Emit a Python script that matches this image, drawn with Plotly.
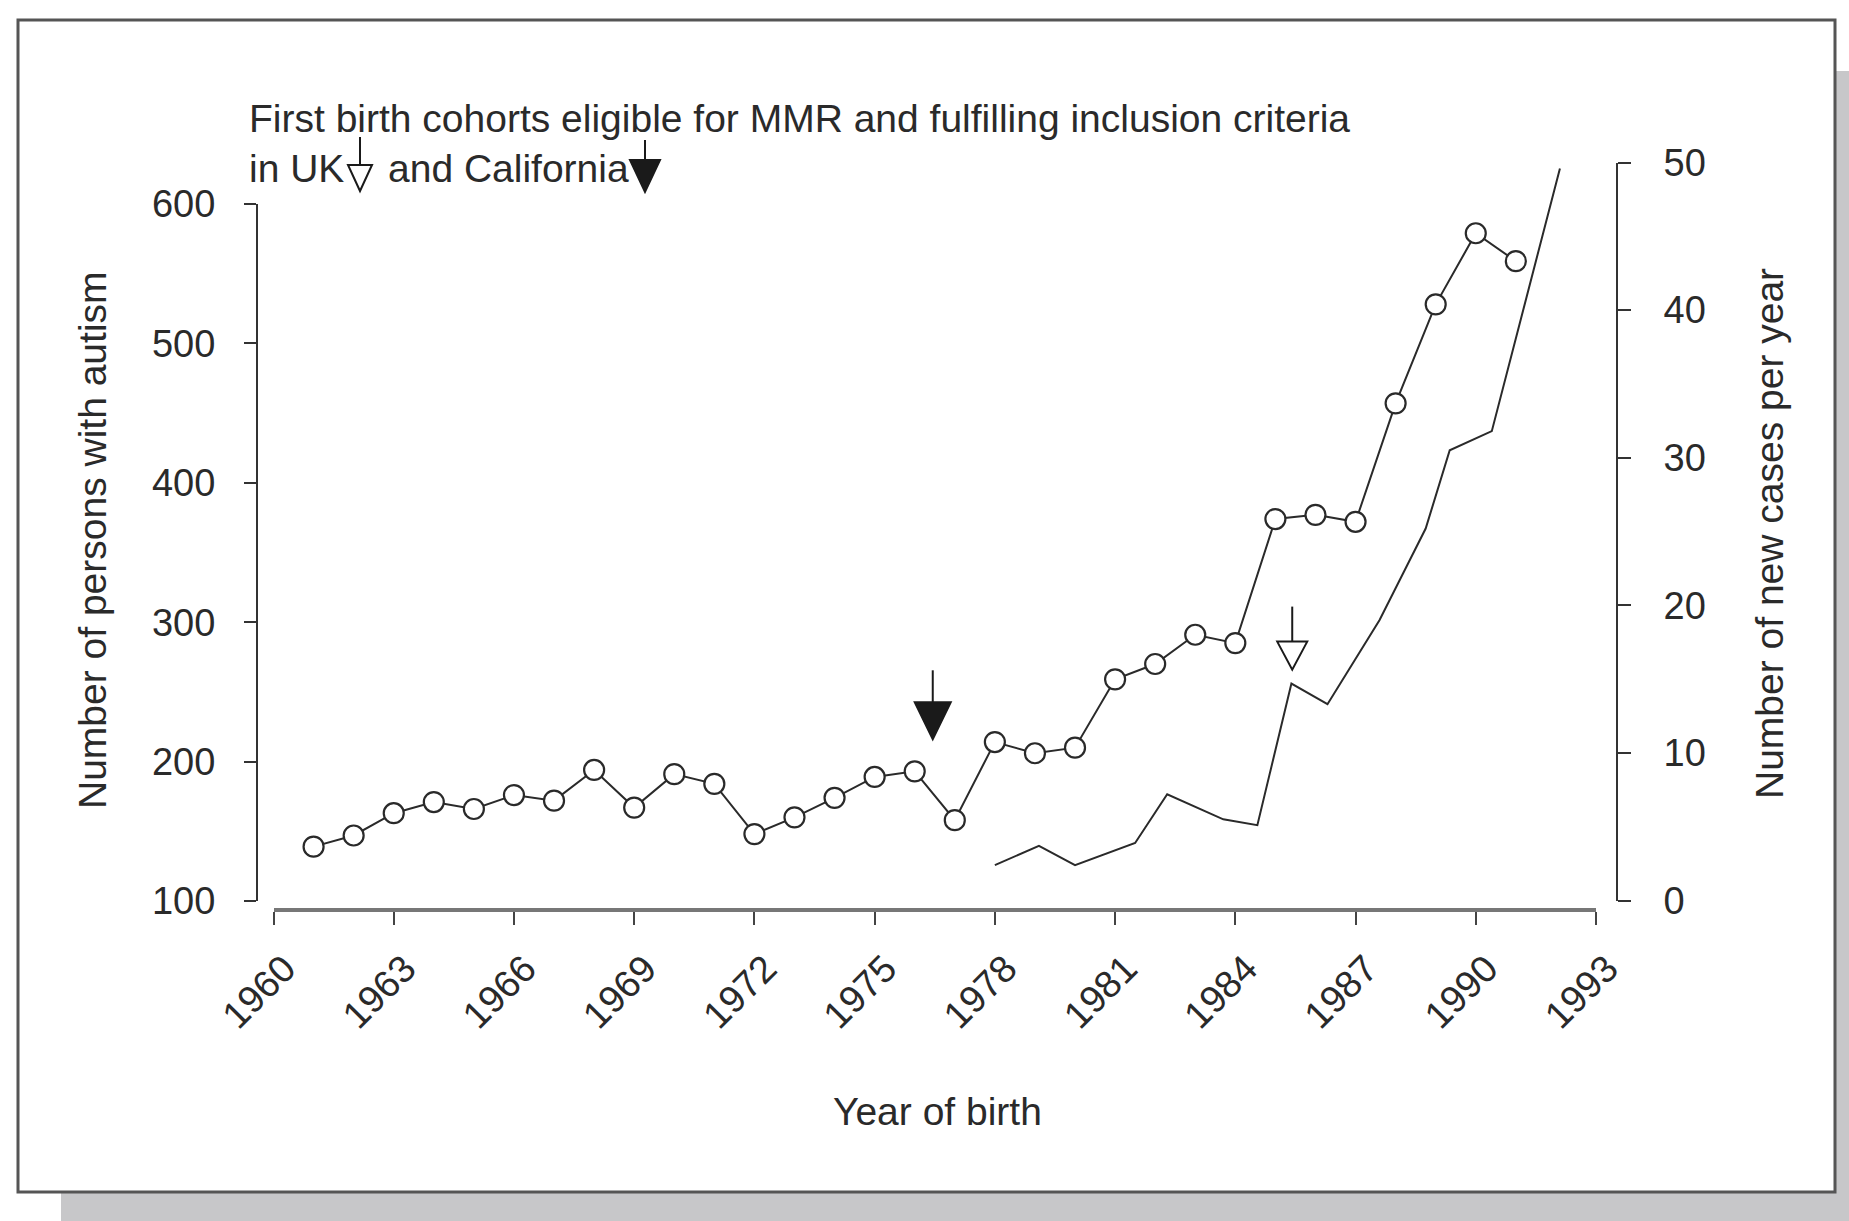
import plotly.graph_objects as go

# ---------------- data ----------------
uk_years = list(range(1961, 1992))
uk_persons = [139, 147, 163, 171, 166, 176, 172, 194, 167, 191, 184, 148, 160, 174,
              189, 193, 158, 214, 206, 210, 259, 270, 291, 285, 374, 377, 372, 457,
              528, 579, 559]

ca_years = [1978.0, 1979.1, 1980.0, 1981.5, 1982.3, 1983.7, 1984.55, 1985.4, 1986.3,
            1987.6, 1988.75, 1989.35, 1990.4, 1992.1]
ca_new_cases = [2.4, 3.7, 2.4, 3.9, 7.2, 5.5, 5.1, 14.7, 13.3, 19.0, 25.2, 30.5, 31.8, 49.6]

x_ticks = list(range(1960, 1994, 3))
left_ticks = [100, 200, 300, 400, 500, 600]
right_ticks = [0, 10, 20, 30, 40, 50]

# MMR eligibility arrows in the plot (year, left-axis value of arrow tip)
arrow_years = [1976.45, 1985.42]
arrow_tips = [216, 266]
arrow_filled = [True, False]

# ---------------- layout helpers ----------------
W, H = 1849, 1221
L, R, T, B = 257, 1617, 162, 910   # paper area in pixels
PW, PH = R - L, B - T


def px(xp):
    return (xp - L) / PW


def py(yp):
    return (B - yp) / PH


FONT = "Liberation Sans, Arial, Helvetica, sans-serif"
TXT = "#2a2a2a"
AX = "#333333"

fig = go.Figure()

fig.add_trace(go.Scatter(
    x=uk_years, y=uk_persons, xaxis="x", yaxis="y", mode="lines+markers",
    line=dict(color="#2a2a2a", width=2),
    marker=dict(symbol="circle", size=20, color="white",
                line=dict(color="#2a2a2a", width=2.2)),
    showlegend=False, hoverinfo="x+y"))

fig.add_trace(go.Scatter(
    x=ca_years, y=ca_new_cases, xaxis="x", yaxis="y2", mode="lines",
    line=dict(color="#2a2a2a", width=2),
    showlegend=False, hoverinfo="x+y"))

shapes = []
# shadow and frame
shapes.append(dict(type="rect", xref="paper", yref="paper", layer="below",
                   x0=px(61), x1=px(1900), y0=py(71), y1=py(1260),
                   fillcolor="#c7c7c9", line=dict(width=0)))
shapes.append(dict(type="rect", xref="paper", yref="paper", layer="below",
                   x0=px(18), x1=px(1835), y0=py(20), y1=py(1192),
                   fillcolor="white", line=dict(color="#555555", width=3)))


def arrow(xref, yref, xa, ya, tri_w, tri_h, stem, filled):
    out = []
    out.append(dict(type="path", xref=xref, yref=yref, xsizemode="pixel", ysizemode="pixel",
                    xanchor=xa, yanchor=ya,
                    path=f"M {-tri_w/2} {tri_h} L {tri_w/2} {tri_h} L 0 0 Z",
                    fillcolor="#1a1a1a" if filled else "white",
                    line=dict(color="#1a1a1a", width=2)))
    out.append(dict(type="line", xref=xref, yref=yref, xsizemode="pixel", ysizemode="pixel",
                    xanchor=xa, yanchor=ya, x0=0, x1=0, y0=tri_h, y1=stem,
                    line=dict(color="#1a1a1a", width=2)))
    return out


# arrows in plot
for xa, ya, f in zip(arrow_years, arrow_tips, arrow_filled):
    if f:
        shapes += arrow("x", "y", xa, ya, 36, 37, 69, True)
    else:
        shapes += arrow("x", "y", xa, ya, 30, 28, 63, False)

# arrows in the heading text
shapes += arrow("paper", "paper", px(360), py(191), 24, 26, 54, False)
shapes += arrow("paper", "paper", px(645), py(192), 30, 32, 52, True)

annotations = [
    dict(text="First birth cohorts eligible for MMR and fulfilling inclusion criteria",
         xref="paper", yref="paper", x=px(247), y=py(118), xanchor="left", yanchor="middle",
         showarrow=False, font=dict(family=FONT, size=39, color=TXT)),
    dict(text="in UK", xref="paper", yref="paper", x=px(247), y=py(168),
         xanchor="left", yanchor="middle",
         showarrow=False, font=dict(family=FONT, size=39, color=TXT)),
    dict(text="and California", xref="paper", yref="paper", x=px(386), y=py(168),
         xanchor="left", yanchor="middle",
         showarrow=False, font=dict(family=FONT, size=39, color=TXT)),
    dict(text="Number of persons with autism", xref="paper", yref="paper",
         x=px(92), y=py(540), xanchor="center", yanchor="middle", textangle=-90,
         showarrow=False, font=dict(family=FONT, size=39, color=TXT)),
    dict(text="Number of new cases per year", xref="paper", yref="paper",
         x=px(1769), y=py(534), xanchor="center", yanchor="middle", textangle=-90,
         showarrow=False, font=dict(family=FONT, size=39, color=TXT)),
    dict(text="Year of birth", xref="paper", yref="paper",
         x=px(937), y=py(1111), xanchor="center", yanchor="middle",
         showarrow=False, font=dict(family=FONT, size=39, color=TXT)),
]

tickfont = dict(family=FONT, size=38, color=TXT)

fig.update_layout(
    width=W, height=H,
    margin=dict(l=L, r=W - R, t=T, b=H - B, pad=0),
    paper_bgcolor="white", plot_bgcolor="rgba(0,0,0,0)",
    showlegend=False,
    xaxis=dict(domain=[px(273.5), px(1596)], range=[1960, 1993], anchor="free", position=0,
               tickmode="array", tickvals=x_ticks, ticktext=[str(t) for t in x_ticks],
               tickangle=-45, tickfont=tickfont, ticks="outside", ticklen=13, tickwidth=2,
               tickcolor="#444444", showline=True, linecolor="#777777", linewidth=4,
               showgrid=False, zeroline=False, ticklabelstandoff=6, ticklabelshift=11),
    yaxis=dict(domain=[py(901), py(204)], range=[100, 600], anchor="free", position=0,
               tickmode="array", tickvals=left_ticks, tickfont=tickfont,
               ticks="outside", ticklen=12, tickwidth=2, tickcolor=AX,
               showline=True, linecolor=AX, linewidth=2,
               showgrid=False, zeroline=False, ticklabelstandoff=21),
    yaxis2=dict(domain=[py(900.5), py(162.5)], range=[0, 50], anchor="free", position=1,
                side="right",
                tickmode="array", tickvals=right_ticks, tickfont=tickfont,
                ticks="outside", ticklen=13, tickwidth=2, tickcolor=AX,
                showline=True, linecolor=AX, linewidth=2,
                showgrid=False, zeroline=False, ticklabelstandoff=25),
    shapes=shapes,
    annotations=annotations,
)

fig.write_html("out.html", config={"displayModeBar": False},
               post_script="document.body.style.margin='0';document.body.style.overflow='hidden';")
